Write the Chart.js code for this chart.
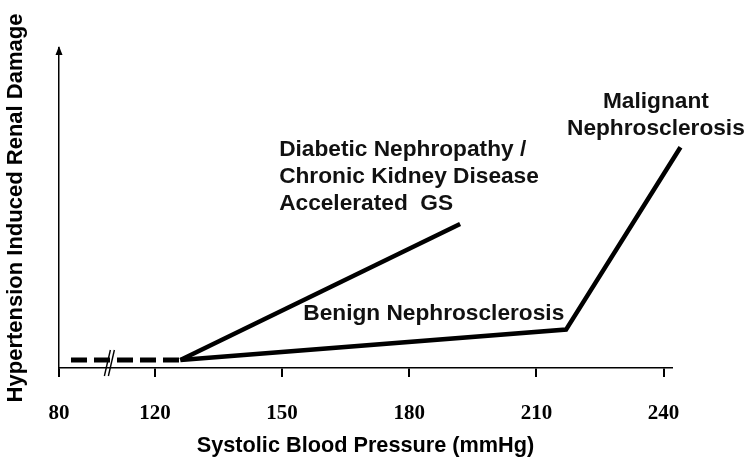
<!DOCTYPE html>
<html><head><meta charset="utf-8">
<script src="https://cdn.jsdelivr.net/npm/chart.js@4/dist/chart.umd.min.js"></script>
<style>html,body{margin:0;padding:0;background:#fff}#wrap{width:752px;height:472px;position:relative}</style>
</head><body><div id="wrap"><canvas id="c"></canvas></div>
<script>
// ---- data (systolic BP in mmHg, renal damage in arbitrary units 0-100) ----
const tickValues = [80, 120, 150, 180, 210, 240];
const normalX = [85, 126];
const normalY = [2.5, 2.5];
const benignMalignantX = [126, 217, 244];
const benignMalignantY = [2.5, 12, 69];
const diabeticX = [126, 192];
const diabeticY = [2.5, 45];
const xTitle = 'Systolic Blood Pressure (mmHg)';
const yTitle = 'Hypertension Induced Renal Damage';
const diabeticLabel = ['Diabetic Nephropathy /', 'Chronic Kidney Disease', 'Accelerated  GS'];
const benignLabel = ['Benign Nephrosclerosis'];
const malignantLabel = ['Malignant', 'Nephrosclerosis'];

// broken x axis: values below 120 mmHg are compressed
const BREAK_AT = 120, COMPRESS = 0.566, BREAK_MARK = 101;
function toAxis(v){ return v >= BREAK_AT ? v : BREAK_AT - (BREAK_AT - v) * COMPRESS; }
function fromAxis(a){ return a >= BREAK_AT ? a : BREAK_AT - (BREAK_AT - a) / COMPRESS; }
const pts = (xs, ys) => xs.map((x, i) => ({x: toAxis(x), y: ys[i]}));

const annotations = [
  {lines: diabeticLabel, x: 149.3, y: 68.1, align: 'left', gap: 27},
  {lines: benignLabel, x: 155, y: 17.1, align: 'left', gap: 27},
  {lines: malignantLabel, x: 238.2, y: 83.2, align: 'center', gap: 26.7}
];

const decor = {
  id: 'decor',
  afterDatasetsDraw(chart) {
    const {ctx, chartArea, scales: {x, y}} = chart;
    ctx.save();
    // arrow head on y axis
    ctx.fillStyle = '#000';
    ctx.beginPath();
    ctx.moveTo(chartArea.left, chartArea.top - 2);
    ctx.lineTo(chartArea.left - 3.5, chartArea.top + 7);
    ctx.lineTo(chartArea.left + 3.5, chartArea.top + 7);
    ctx.closePath();
    ctx.fill();
    // axis break marks
    const bx = x.getPixelForValue(toAxis(BREAK_MARK));
    const by = chartArea.bottom;
    ctx.strokeStyle = '#000';
    ctx.lineWidth = 1.4;
    for (const dx of [-2, 2]) {
      ctx.beginPath();
      ctx.moveTo(bx + dx - 3, by + 8);
      ctx.lineTo(bx + dx + 3, by - 18);
      ctx.stroke();
    }
    // annotations
    ctx.fillStyle = '#111';
    ctx.font = 'bold 22.7px "Liberation Sans", Arial, sans-serif';
    ctx.textBaseline = 'middle';
    for (const a of annotations) {
      ctx.textAlign = a.align;
      const px = x.getPixelForValue(a.x);
      const py = y.getPixelForValue(a.y);
      a.lines.forEach((t, i) => ctx.fillText(t, px, py + i * a.gap));
    }
    ctx.restore();
  }
};

const common = {showLine: true, borderColor: '#000', pointRadius: 0, fill: false, clip: false, tension: 0,
  borderCapStyle: 'butt', borderJoinStyle: 'miter'};

new Chart(document.getElementById('c'), {
  type: 'scatter',
  data: {
    datasets: [
      Object.assign({label: 'Normal', data: pts(normalX, normalY), borderWidth: 5, borderDash: [16, 7]}, common),
      Object.assign({label: 'Benign / Malignant Nephrosclerosis', data: pts(benignMalignantX, benignMalignantY), borderWidth: 4.5}, common),
      Object.assign({label: 'Diabetic Nephropathy / CKD', data: pts(diabeticX, diabeticY), borderWidth: 4.5}, common)
    ]
  },
  options: {
    responsive: true,
    maintainAspectRatio: false,
    animation: false,
    layout: {padding: {left: 0, right: 80, top: 48, bottom: 0}},
    plugins: {legend: {display: false}, tooltip: {enabled: false}},
    scales: {
      x: {
        type: 'linear',
        min: toAxis(80),
        max: 242,
        afterBuildTicks: s => { s.ticks = tickValues.map(v => ({value: toAxis(v)})); },
        afterFit: s => { s.height = 104; },
        ticks: {
          autoSkip: false, maxRotation: 0, padding: 24, color: '#000',
          font: {family: '"Liberation Serif", "Times New Roman", serif', weight: 'bold', size: 21},
          callback: v => String(Math.round(fromAxis(v)))
        },
        grid: {drawOnChartArea: false, drawTicks: true, tickLength: 9, color: '#000', lineWidth: 2},
        border: {display: true, color: '#000', width: 1.5},
        title: {display: true, text: xTitle, color: '#000', padding: {top: 0, bottom: 13},
          font: {family: '"Liberation Sans", Arial, sans-serif', weight: 'bold', size: 21.7}}
      },
      y: {
        type: 'linear', min: 0, max: 100,
        afterFit: s => { s.width = 59; },
        ticks: {display: false},
        grid: {display: false},
        border: {display: true, color: '#000', width: 1.5},
        title: {display: true, text: yTitle, color: '#000', padding: {top: 3, bottom: 0},
          font: {family: '"Liberation Sans", Arial, sans-serif', weight: 'bold', size: 22}}
      }
    }
  },
  plugins: [decor]
});
</script>
</body></html>
